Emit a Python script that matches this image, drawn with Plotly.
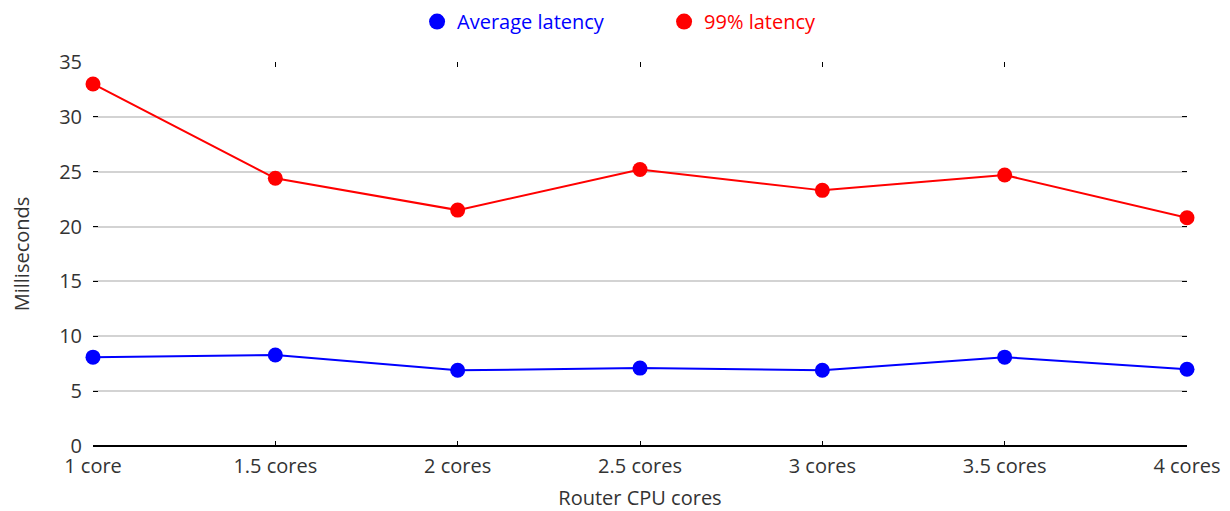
import plotly.graph_objects as go

categories = ["1 core", "1.5 cores", "2 cores", "2.5 cores", "3 cores", "3.5 cores", "4 cores"]
avg_latency = [8.1, 8.3, 6.9, 7.1, 6.9, 8.1, 7.0]
p99_latency = [33.0, 24.4, 21.5, 25.2, 23.3, 24.7, 20.8]
y_ticks = [0, 5, 10, 15, 20, 25, 30, 35]

FONT = "Open Sans"
BLUE = "#0000ff"
RED = "#ff0000"

fig = go.Figure()
for vals, col in [(avg_latency, BLUE), (p99_latency, RED)]:
    fig.add_trace(go.Scatter(
        x=categories, y=vals, mode="lines+markers", showlegend=False,
        line=dict(color=col, width=2),
        marker=dict(color=col, size=15),
    ))
# legend entries (markers only)
for name, col in [("Average latency", BLUE), ("99% latency", RED)]:
    fig.add_trace(go.Scatter(
        x=[None], y=[None], mode="markers",
        name=f"<span style='color:{col}'>{name}</span>",
        marker=dict(color=col, size=20),
    ))

fig.update_layout(
    width=1222, height=503,
    margin=dict(l=85, r=43, t=54, b=65, autoexpand=False),
    paper_bgcolor="white", plot_bgcolor="white",
    font=dict(family=FONT, size=20, color="#333333"),
    showlegend=True,
    legend=dict(orientation="h", x=0.522, xanchor="center", y=1.156, yanchor="top",
                font=dict(size=20, family=FONT),
                itemsizing="trace", itemwidth=30,
                entrywidthmode="pixels", entrywidth=202),
    xaxis=dict(
        title=dict(text="Router CPU cores", font=dict(size=20), standoff=12),
        type="category", range=[0, 6],
        showgrid=False, zeroline=False, showline=False,
        ticks="inside", ticklen=5, tickcolor="black", mirror="ticks",
        tickfont=dict(size=20), ticklabelstandoff=6,
    ),
    yaxis=dict(
        title=dict(text="Milliseconds", font=dict(size=20), standoff=25),
        range=[0, 35], tickvals=y_ticks,
        showgrid=True, gridcolor="#d3d3d3", gridwidth=2,
        zeroline=True, zerolinecolor="black", zerolinewidth=2,
        showline=False,
        ticks="inside", ticklen=5, tickcolor="black", mirror="ticks",
        tickfont=dict(size=20), ticklabelstandoff=10,
    ),
)
fig.update_traces(cliponaxis=False)

fig.write_html("out.html")
